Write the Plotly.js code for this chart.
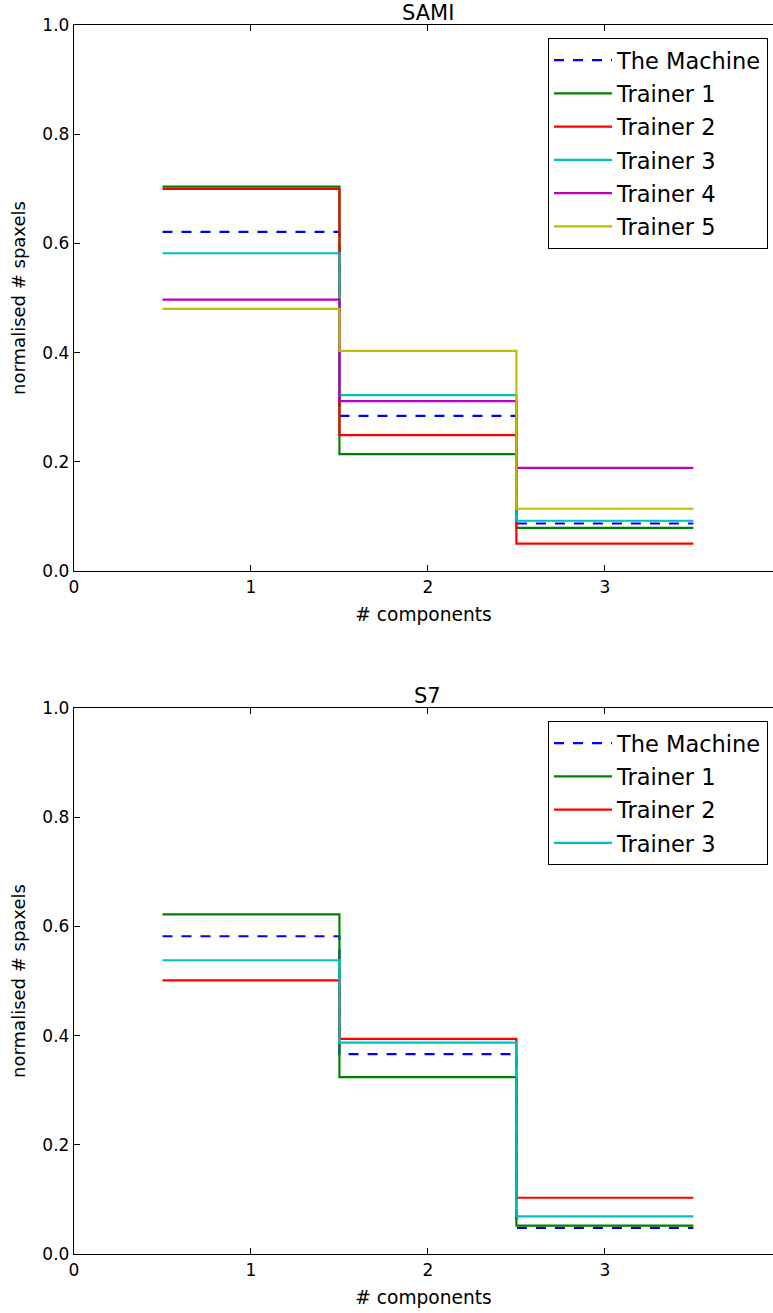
<!DOCTYPE html>
<html>
<head>
<meta charset="utf-8">
<script src="https://cdn.plot.ly/plotly-3.0.1.min.js"></script>
<style>html,body{margin:0;padding:0;background:#fff;}</style>
</head>
<body>
<div id="chart" style="width:773px;height:1313px;"></div>
<script>
// ---- data ----
const components = [1, 2, 3];
const seriesNames = ['The Machine', 'Trainer 1', 'Trainer 2', 'Trainer 3', 'Trainer 4', 'Trainer 5'];

const samiMachine = [0.621, 0.284, 0.087];
const samiT1 = [0.704, 0.214, 0.079];
const samiT2 = [0.700, 0.249, 0.050];
const samiT3 = [0.582, 0.322, 0.092];
const samiT4 = [0.497, 0.311, 0.189];
const samiT5 = [0.480, 0.403, 0.114];

const s7Machine = [0.582, 0.366, 0.048];
const s7T1 = [0.622, 0.324, 0.052];
const s7T2 = [0.501, 0.394, 0.103];
const s7T3 = [0.538, 0.387, 0.069];

const xTicks = [0, 1, 2, 3];
const yTicks = [0.0, 0.2, 0.4, 0.6, 0.8, 1.0];

// ---- styles ----
const colors = ['#0000ff', '#008000', '#ff0000', '#00bfbf', '#bf00bf', '#bfbf00'];
const FONT = 'DejaVu Sans, Verdana, sans-serif';

// bin edges for step drawing (each component spans +/- 0.5)
const edges = components.map(c => c - 0.5).concat([components[components.length - 1] + 0.5]);
function stepY(vals) { return vals.concat([vals[vals.length - 1]]); }

function makeTraces(list, xa, ya, legendId, prefix) {
  return list.map((vals, i) => ({
    type: 'scatter', mode: 'lines',
    x: edges, y: stepY(vals),
    name: seriesNames[i],
    xaxis: xa, yaxis: ya,
    legend: legendId,
    legendgroup: prefix + i,
    line: { shape: 'hv', color: colors[i], width: 2.2, dash: i === 0 ? '10px,9px' : 'solid' },
    hoverinfo: 'skip'
  }));
}

const traces = []
  .concat(makeTraces([samiMachine, samiT1, samiT2, samiT3, samiT4, samiT5], 'x', 'y', 'legend', 'a'))
  .concat(makeTraces([s7Machine, s7T1, s7T2, s7T3], 'x2', 'y2', 'legend2', 'b'));

const H = 1313, W = 773, L = 74;
function dom(topPx, botPx) { return [1 - botPx / H, 1 - topPx / H]; }
const yd1 = dom(25, 571);
const yd2 = dom(708, 1254);

function xAxis(anchor) {
  return {
    anchor: anchor, domain: [0, 1], range: [0, 3.95],
    tickvals: xTicks, ticktext: xTicks.map(String),
    ticks: 'inside', ticklen: 6, tickcolor: '#000', tickwidth: 1,
    showline: true, linecolor: '#000', linewidth: 1.2, mirror: 'ticks',
    showgrid: false, zeroline: false,
    tickfont: { family: FONT, size: 17, color: '#000' },
    title: { text: '# components', font: { family: FONT, size: 18.6, color: '#000' }, standoff: 12 }
  };
}
function yAxis(anchor, d) {
  return {
    anchor: anchor, domain: d, range: [0, 1],
    tickvals: yTicks, tickformat: '.1f',
    ticks: 'inside', ticklen: 6, tickcolor: '#000', tickwidth: 1,
    showline: true, linecolor: '#000', linewidth: 1.2, mirror: false,
    showgrid: false, zeroline: false,
    tickfont: { family: FONT, size: 17, color: '#000' },
    title: { text: 'normalised # spaxels', font: { family: FONT, size: 18, color: '#000' }, standoff: 12 }
  };
}

const legendBase = {
  xanchor: 'right', yanchor: 'top', x: (768 - L) / (W - L),
  bgcolor: '#fff', bordercolor: '#000', borderwidth: 1,
  font: { family: FONT, size: 22.5, color: '#000' },
  itemwidth: 58,
  tracegroupgap: 1
};

const layout = {
  width: W, height: H,
  margin: { l: L, r: 0, t: 0, b: 0 },
  paper_bgcolor: '#fff', plot_bgcolor: '#fff',
  font: { family: FONT, color: '#000' },
  showlegend: true,
  xaxis: xAxis('y'),
  yaxis: yAxis('x', yd1),
  xaxis2: xAxis('y2'),
  yaxis2: yAxis('x2', yd2),
  legend: Object.assign({}, legendBase, { y: 1 - 38 / H }),
  legend2: Object.assign({}, legendBase, { y: 1 - 721 / H }),
  annotations: [
    { text: 'SAMI', x: 2, xref: 'x', y: yd1[1], yref: 'paper', yanchor: 'bottom', showarrow: false,
      font: { family: FONT, size: 21, color: '#000' }, yshift: -2 },
    { text: 'S7', x: 2, xref: 'x2', y: yd2[1], yref: 'paper', yanchor: 'bottom', showarrow: false,
      font: { family: FONT, size: 21, color: '#000' }, yshift: -2 }
  ]
};

Plotly.newPlot('chart', traces, layout, { displayModeBar: false, staticPlot: true });
</script>
</body>
</html>
